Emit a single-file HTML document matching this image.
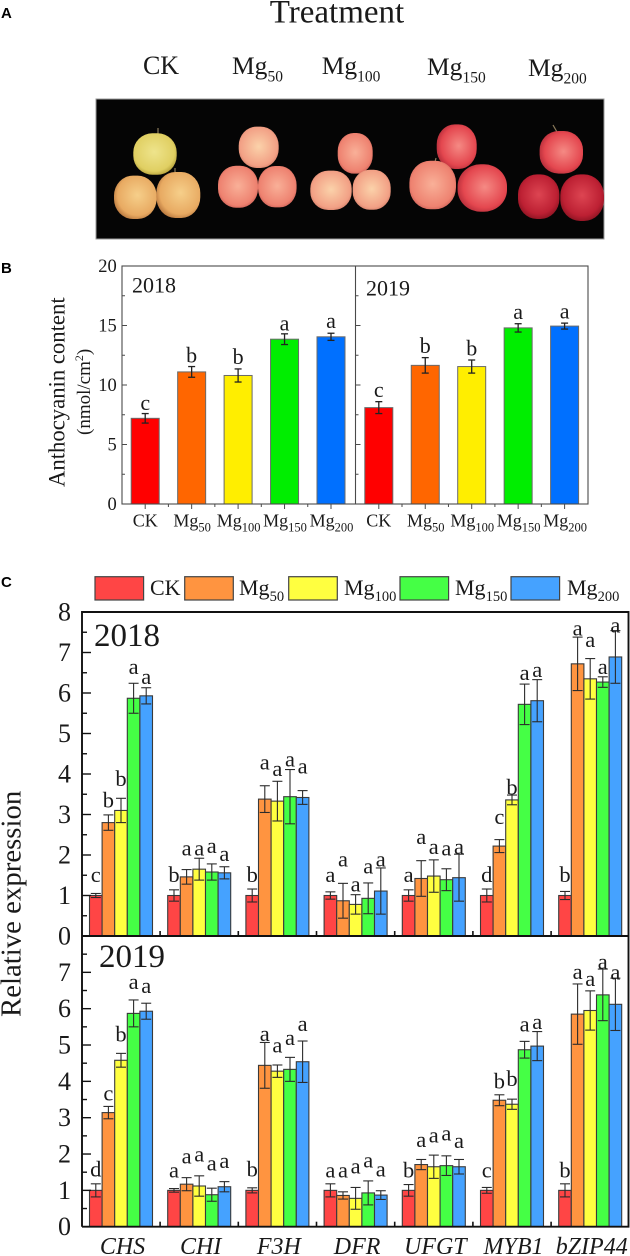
<!DOCTYPE html>
<html lang="en">
<head>
<meta charset="utf-8">
<title>Anthocyanin content and gene expression under Mg treatments</title>
<style>
html,body{margin:0;padding:0;background:#fff;width:630px;height:1256px;overflow:hidden}
svg{display:block}
text{font-family:"Liberation Serif",serif;fill:#1a1a1a}
.panel{font-family:"Liberation Sans",sans-serif;font-weight:700;font-size:15px;fill:#000}
</style>
</head>
<body>
<svg id="fig" xmlns="http://www.w3.org/2000/svg" width="630" height="1256" viewBox="0 0 630 1256">
<defs>
<radialGradient id="gY" cx="48%" cy="45%" r="62%"><stop offset="0" stop-color="#eee48c"/><stop offset=".75" stop-color="#e0cf62"/><stop offset="1" stop-color="#a9942e"/></radialGradient>
<radialGradient id="gO" cx="55%" cy="45%" r="62%"><stop offset="0" stop-color="#f6cf8a"/><stop offset=".75" stop-color="#e8aa62"/><stop offset="1" stop-color="#b06f38"/></radialGradient>
<radialGradient id="gP" cx="50%" cy="48%" r="62%"><stop offset="0" stop-color="#fbd2aa"/><stop offset=".75" stop-color="#f2a085"/><stop offset="1" stop-color="#c06a58"/></radialGradient>
<radialGradient id="gL" cx="50%" cy="48%" r="62%"><stop offset="0" stop-color="#f9b098"/><stop offset=".75" stop-color="#ee8270"/><stop offset="1" stop-color="#b84c48"/></radialGradient>
<radialGradient id="gR" cx="55%" cy="48%" r="62%"><stop offset="0" stop-color="#f58a84"/><stop offset=".7" stop-color="#e4474f"/><stop offset="1" stop-color="#a82634"/></radialGradient>
<radialGradient id="gD" cx="50%" cy="45%" r="62%"><stop offset="0" stop-color="#dd4552"/><stop offset=".7" stop-color="#bd2033"/><stop offset="1" stop-color="#7d101d"/></radialGradient>
</defs>

<text class="panel" x="1" y="18">A</text>
<text x="337" y="22.7" font-size="33" text-anchor="middle">Treatment</text>
<g font-size="25.5">
<text x="161" y="74" font-size="26" text-anchor="middle">CK</text>
<text x="232" y="74">Mg<tspan font-size="15.5" dy="7.5">50</tspan></text>
<text x="321.7" y="74">Mg<tspan font-size="15.5" dy="7.5">100</tspan></text>
<text x="427" y="75">Mg<tspan font-size="15.5" dy="7.5">150</tspan></text>
<text x="528" y="76">Mg<tspan font-size="15.5" dy="7.5">200</tspan></text>
</g>

<g>
<rect x="96" y="99" width="508" height="140" fill="#050505" stroke="#9a9a9a" stroke-width="1"/>
<g stroke="#8a7a5a" stroke-width="1.2" fill="none">
<path d="M158 135L158 128"/>
<path d="M175 172L175 168"/>
<path d="M435 162L436 158"/>
<path d="M557 132L553 125"/>
</g>
<g>
<rect x="133.3" y="133.3" width="43.4" height="41.4" rx="19" ry="19" fill="url(#gY)"/>
<rect x="114" y="175.6" width="42.6" height="43.4" rx="19" ry="20" fill="url(#gO)"/>
<rect x="156.3" y="172" width="44" height="46" rx="19" ry="21" fill="url(#gO)"/>
</g>
<g>
<rect x="238.7" y="126.6" width="40" height="41.4" rx="18" ry="19" fill="url(#gP)"/>
<rect x="218" y="165.7" width="40" height="42" rx="18" ry="19" fill="url(#gL)"/>
<rect x="258" y="166" width="38.6" height="41.4" rx="17" ry="19" fill="url(#gL)"/>
</g>
<g>
<rect x="337.7" y="133" width="35" height="40.6" rx="16" ry="18" fill="url(#gL)"/>
<rect x="310.3" y="170.6" width="41.4" height="39.4" rx="18" ry="18" fill="url(#gP)"/>
<rect x="352.7" y="169.7" width="38" height="40" rx="17" ry="18" fill="url(#gP)"/>
</g>
<g>
<rect x="436.7" y="124.4" width="40" height="44.6" rx="18" ry="20" fill="url(#gR)"/>
<rect x="409.4" y="160.7" width="46.6" height="48.6" rx="21" ry="22" fill="url(#gL)"/>
<rect x="457.6" y="164.3" width="49.4" height="47.4" rx="23" ry="22" fill="url(#gR)"/>
</g>
<g>
<rect x="539.6" y="131" width="43.4" height="42.6" rx="19" ry="19" fill="url(#gR)"/>
<rect x="518" y="174.4" width="41.4" height="44.6" rx="19" ry="20" fill="url(#gD)"/>
<rect x="560.3" y="174.4" width="43.7" height="46.6" rx="20" ry="21" fill="url(#gD)"/>
</g>
</g>

<text class="panel" x="1" y="273">B</text>
<text class="panel" x="1" y="587">C</text>
<g id="chartB"></g>
<g id="chartC"></g>
</svg>

<script>
/* ---------- Panel B data ---------- */
const treatments = ['CK', '50', '100', '150', '200'];
const anthocyanin2018 = [7.2, 11.1, 10.8, 13.85, 14.05];
const anthocyaninErr2018 = [0.4, 0.45, 0.55, 0.45, 0.3];
const anthocyaninLetters2018 = ['c', 'b', 'b', 'a', 'a'];
const anthocyaninLetterLevel2018 = [7.9, 11.9, 11.77, 14.6, 14.8];
const anthocyanin2019 = [8.1, 11.65, 11.55, 14.8, 14.95];
const anthocyaninErr2019 = [0.5, 0.65, 0.55, 0.35, 0.25];
const anthocyaninLetters2019 = ['c', 'b', 'b', 'a', 'a'];
const anthocyaninLetterLevel2019 = [9.0, 12.7, 12.5, 15.55, 15.6];
const anthocyaninTicks = [0, 5, 10, 15, 20];
const anthocyaninMinorTicks = [2.5, 7.5, 12.5, 17.5];

/* ---------- Panel C data (rows = genes, columns = treatments) ---------- */
const genes = ['CHS', 'CHI', 'F3H', 'DFR', 'UFGT', 'MYB1', 'bZIP44'];
const expressionTicks = [0, 1, 2, 3, 4, 5, 6, 7];
const expression2018 = [
  [1.0, 2.8, 3.1, 5.87, 5.93],
  [1.0, 1.46, 1.65, 1.58, 1.56],
  [1.0, 3.38, 3.33, 3.44, 3.42],
  [1.0, 0.87, 0.78, 0.93, 1.11],
  [1.0, 1.42, 1.48, 1.39, 1.44],
  [1.0, 2.22, 3.36, 5.72, 5.81],
  [1.0, 6.72, 6.35, 6.27, 6.89]
];
const expressionErr2018 = [
  [0.05, 0.19, 0.3, 0.37, 0.2],
  [0.14, 0.18, 0.27, 0.2, 0.15],
  [0.16, 0.33, 0.49, 0.67, 0.17],
  [0.09, 0.43, 0.24, 0.38, 0.57],
  [0.14, 0.44, 0.4, 0.27, 0.58],
  [0.16, 0.16, 0.12, 0.5, 0.52],
  [0.1, 0.66, 0.5, 0.13, 0.65]
];
const expressionLetters2018 = [
  ['c', 'b', 'b', 'a', 'a'],
  ['b', 'a', 'a', 'a', 'a'],
  ['b', 'a', 'a', 'a', 'a'],
  ['a', 'a', 'a', 'a', 'a'],
  ['a', 'a', 'a', 'a', 'a'],
  ['d', 'c', 'b', 'a', 'a'],
  ['b', 'a', 'a', 'a', 'a']
];
const expressionLetterLevel2018 = [
  [1.33, 3.17, 3.7, 6.47, 6.22],
  [1.33, 1.99, 1.99, 2.05, 1.85],
  [1.33, 4.11, 3.95, 4.19, 4.01],
  [1.33, 1.72, 1.1, 1.54, 1.72],
  [1.33, 2.27, 2.03, 1.99, 2.03],
  [1.33, 2.76, 3.5, 6.32, 6.4],
  [1.33, 7.42, 7.13, 6.47, 7.49]
];
const expression2019 = [
  [1.0, 3.14, 4.58, 5.87, 5.93],
  [1.0, 1.17, 1.12, 0.88, 1.1],
  [1.0, 4.44, 4.28, 4.33, 4.54],
  [1.0, 0.86, 0.78, 0.93, 0.87],
  [1.0, 1.71, 1.65, 1.68, 1.65],
  [1.0, 3.48, 3.37, 4.87, 4.97],
  [1.0, 5.85, 5.95, 6.38, 6.12]
];
const expressionErr2019 = [
  [0.18, 0.17, 0.19, 0.37, 0.22],
  [0.05, 0.18, 0.28, 0.18, 0.14],
  [0.07, 0.63, 0.17, 0.33, 0.57],
  [0.18, 0.1, 0.3, 0.33, 0.12],
  [0.16, 0.14, 0.32, 0.27, 0.2],
  [0.08, 0.15, 0.14, 0.23, 0.4],
  [0.18, 0.83, 0.54, 0.71, 0.72]
];
const expressionLetters2019 = [
  ['d', 'c', 'b', 'a', 'a'],
  ['a', 'a', 'a', 'a', 'a'],
  ['b', 'a', 'a', 'a', 'a'],
  ['a', 'a', 'a', 'a', 'a'],
  ['b', 'a', 'a', 'a', 'a'],
  ['c', 'b', 'b', 'a', 'a'],
  ['b', 'a', 'a', 'a', 'a']
];
const expressionLetterLevel2019 = [
  [1.38, 3.47, 5.1, 6.54, 6.43],
  [1.36, 1.74, 1.79, 1.54, 1.61],
  [1.38, 5.11, 4.79, 5.0, 5.39],
  [1.36, 1.36, 1.47, 1.63, 1.38],
  [1.36, 2.2, 2.32, 2.37, 2.16],
  [1.36, 3.81, 3.87, 5.37, 5.44],
  [1.36, 6.82, 6.63, 7.09, 6.8]
];

/* ---------- helpers ---------- */
const NS = 'http://www.w3.org/2000/svg';
const coloursB = ['#ff0000', '#ff6600', '#ffee00', '#00ee00', '#0070ff'];
const coloursC = ['#ff4545', '#ff9440', '#ffff40', '#45ff45', '#45a2ff'];

function make(parent, tag, attrs, content) {
  const el = document.createElementNS(NS, tag);
  for (const k in attrs) el.setAttribute(k, attrs[k]);
  if (content !== undefined) el.textContent = content;
  parent.appendChild(el);
  return el;
}
function line(parent, x1, y1, x2, y2, stroke, width) {
  return make(parent, 'line', {x1: x1, y1: y1, x2: x2, y2: y2, stroke: stroke, 'stroke-width': width});
}
function treatmentLabel(parent, x, y, size, subSize, code, anchor) {
  const t = make(parent, 'text', {x: x, y: y, 'font-size': size, 'text-anchor': anchor});
  if (code === 'CK') { t.textContent = 'CK'; return t; }
  t.appendChild(document.createTextNode('Mg'));
  make(t, 'tspan', {'font-size': subSize, dy: Math.round(size * 0.26)}, code);
  return t;
}
function errorBar(parent, x, yTop, yBottom, capHalf, stroke, width) {
  line(parent, x, yTop, x, yBottom, stroke, width);
  line(parent, x - capHalf, yTop, x + capHalf, yTop, stroke, width);
  line(parent, x - capHalf, yBottom, x + capHalf, yBottom, stroke, width);
}

/* ---------- Panel B ---------- */
(function () {
  const root = document.getElementById('chartB');
  const top = 266, bottom = 504, left = 122, right = 588, mid = 355.5;
  const yB = v => bottom - (v / 20) * (bottom - top);
  const xB = (panel, i) => (panel === 0 ? 145.2 : 378.8) + i * 46.45;
  const axisColour = '#4a4a4a';

  [[anthocyanin2018, anthocyaninErr2018, anthocyaninLetters2018, anthocyaninLetterLevel2018, '2018'],
   [anthocyanin2019, anthocyaninErr2019, anthocyaninLetters2019, anthocyaninLetterLevel2019, '2019']].forEach((set, p) => {
    const g = make(root, 'g', {});
    
    
    set[0].forEach((v, i) => {
      const x = xB(p, i);
      const bar = make(g, 'rect', {x: x - 14, y: yB(v), width: 28, height: bottom - yB(v), fill: coloursB[i], stroke: '#6a6a6a', 'stroke-width': 1});
      
      
      const eb = make(g, 'g', {});
      
      
      errorBar(eb, x, yB(v + set[1][i]), yB(v - set[1][i]), 3.5, '#222', 1.3);
      const letter = make(g, 'text', {x: x, y: yB(set[3][i]), 'font-size': 22, 'text-anchor': 'middle'}, set[2][i]);
      
      
      const tick = line(g, x, bottom, x, bottom + 5, axisColour, 1);
      
      
      if (i < 4) line(g, x + 23.2, bottom, x + 23.2, bottom + 3, axisColour, 1);
      const lab = treatmentLabel(g, x + (i === 0 ? 0 : 0.5), 526.7, 18, 12.5, treatments[i], 'middle');
      
      
    });
    const yr = make(g, 'text', {x: p === 0 ? 132 : 366, y: p === 0 ? 292.5 : 295.5, 'font-size': 22}, set[4]);
    
    
  });

  const frame = make(root, 'rect', {x: left, y: top, width: right - left, height: bottom - top, fill: 'none', stroke: axisColour, 'stroke-width': 1.1});
  
  
  const divider = line(root, mid, top, mid, bottom, axisColour, 1.1);
  
  

  anthocyaninTicks.forEach(v => {
    const y = yB(v);
    line(root, left, y, left + 5, y, axisColour, 1);
    line(root, mid, y, mid + 5, y, axisColour, 1);
    const t = make(root, 'text', {x: 116.7, y: y + 6, 'font-size': 18.5, 'text-anchor': 'end'}, v);
    
    
  });
  anthocyaninMinorTicks.forEach(v => {
    const y = yB(v);
    line(root, left, y, left + 3, y, axisColour, 1);
    line(root, mid, y, mid + 3, y, axisColour, 1);
  });

  const title = make(root, 'text', {x: 0, y: 0, 'font-size': 22.7, transform: 'translate(64.3,487) rotate(-90)'}, 'Anthocyanin content');
  
  
  const unit = make(root, 'text', {x: 0, y: 0, 'font-size': 19, transform: 'translate(90,435) rotate(-90)'}, '(nmol/cm');
  
  
  make(unit, 'tspan', {'font-size': 12, dy: -7}, '2');
  make(unit, 'tspan', {dy: 7}, ')');
})();

/* ---------- Panel C ---------- */
(function () {
  const root = document.getElementById('chartC');
  const left = 82;
  const barW = 12.6, groupStep = 78.2, firstGroup = 121;
  const ink = '#2b2b2b';
  const xC = (g, s) => firstGroup + g * groupStep + (s - 2) * barW;

  /* legend */
  const legendX = [95, 184.7, 288.7, 400, 511];
  const legendTextX = [150, 239, 344, 455, 567];
  treatments.forEach((code, i) => {
    const sw = make(root, 'rect', {x: legendX[i], y: 576.7, width: 48.6, height: 23.3, fill: coloursC[i], stroke: '#444', 'stroke-width': 1.2});
    
    
    const lab = treatmentLabel(root, legendTextX[i], 595, 22, 14.5, code, 'start');
    
    
  });

  const panels = [
    {name: '2018', top: 612, bottom: 936, vals: expression2018, errs: expressionErr2018, letters: expressionLetters2018, levels: expressionLetterLevel2018, labelX: 94, labelY: 646, maxTick: 8},
    {name: '2019', top: 936, bottom: 1226.7, vals: expression2019, errs: expressionErr2019, letters: expressionLetters2019, levels: expressionLetterLevel2019, labelX: 99, labelY: 967, maxTick: 7}
  ];

  panels.forEach(p => {
    const y = v => p.bottom - (v / 8) * (p.bottom - p.top);
    const g = make(root, 'g', {});
    
    

    p.vals.forEach((row, gi) => {
      row.forEach((v, si) => {
        const x = xC(gi, si);
        const bar = make(g, 'rect', {x: x - barW / 2, y: y(v), width: barW, height: p.bottom - y(v), fill: coloursC[si], stroke: '#3a3a3a', 'stroke-width': 1.1});
        
        
      });
      row.forEach((v, si) => {
        const x = xC(gi, si);
        const e = p.errs[gi][si];
        const eb = make(g, 'g', {});
        
        
        errorBar(eb, x, y(v + e), y(Math.max(0, v - e)), 5, ink, 1.1);
        const letter = make(g, 'text', {x: x, y: y(p.levels[gi][si]), 'font-size': 22.5, 'text-anchor': 'middle'}, p.letters[gi][si]);
        
        
      });
      if (gi < genes.length - 1) {
        const tx = firstGroup + (gi + 0.5) * groupStep;
        const tick = line(g, tx, p.bottom, tx, p.bottom - 5, '#111', 1.6);
        
        
      }
    });

    expressionTicks.forEach(v => {
      line(g, left, y(v), left + 9, y(v), '#111', 1.4);
      if (v < 8) line(g, left, y(v + 0.5), left + 5, y(v + 0.5), '#111', 1.4);
    });

    for (let v = 0; v <= p.maxTick; v++) {
      const t = make(g, 'text', {x: 71, y: y(v) + 8.5, 'font-size': 26, 'text-anchor': 'end'}, v);
      
      
    }

    const yr = make(g, 'text', {x: p.labelX, y: p.labelY, 'font-size': 33}, p.name);
    
    
  });

  const frame = make(root, 'path', {d: 'M82 1226.7V612H628.5V1226.7H82M82 936H628.5', fill: 'none', stroke: '#111', 'stroke-width': 1.9});
  
  

  genes.forEach((name, gi) => {
    const t = make(root, 'text', {x: firstGroup + 1.5 + gi * groupStep, y: 1254, 'font-size': 24, 'font-style': 'italic', 'text-anchor': 'middle'}, name);
    
    
  });

  const title = make(root, 'text', {x: 0, y: 0, 'font-size': 28.8, transform: 'translate(20.5,1017) rotate(-90)'}, 'Relative expression');
  
  
})();
</script>
</body>
</html>
